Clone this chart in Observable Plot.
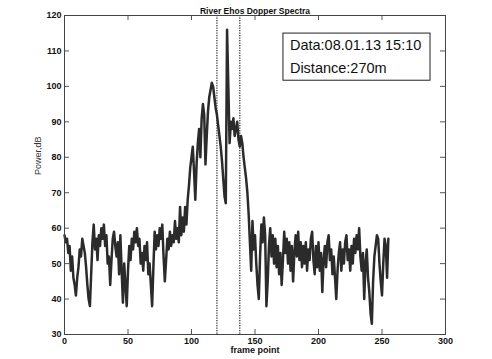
<!DOCTYPE html>
<html><head><meta charset="utf-8">
<script src="https://cdn.jsdelivr.net/npm/d3@7"></script>
<script src="https://cdn.jsdelivr.net/npm/@observablehq/plot@0.6"></script>
<style>body{margin:0;background:#fff} svg{display:block}</style>
</head><body><div id="chart"></div>
<script>
const power = [
58,56,57,53,55,48,52,46,44,41,
46,49,54,52,57,55,53,49,44,40,
38,47,56,61,54,57,51,58,55,60,
57,61,55,58,50,52,44,51,57,59,
55,52,56,47,58,48,39,50,44,38,
48,55,51,57,54,59,56,60,55,57,
50,53,48,55,51,56,47,50,44,38,
49,59,54,58,55,60,57,61,52,45,
51,57,54,59,55,58,56,62,57,60,
56,66,58,63,59,66,61,68,72,77,
80,83,76,68,78,84,88,80,91,95,
92,78,86,93,97,99,101,100,97,94,
92,89,86,83,79,74,69,67,116,100,
84,90,88,91,86,88,90,85,83,86,
84,80,77,74,70,64,56,48,62,54,
58,50,44,40,52,61,56,63,58,38,
45,55,60,52,58,50,57,49,55,47,
53,44,51,59,53,57,50,56,48,55,
45,53,58,52,59,51,56,49,55,50,
56,48,54,51,57,59,51,47,55,49,
56,48,53,42,51,55,49,56,58,51,
54,47,52,46,40,48,53,56,48,54,
50,56,58,51,54,48,55,50,57,53,
58,54,60,52,48,53,40,50,54,46,
42,36,33,45,52,55,58,57,50,45,
41,50,57,55,46,57
];
const frames = power.map((_, i) => i);
const xTicks = [0, 50, 100, 150, 200, 250, 300];
const yTicks = [30, 40, 50, 60, 70, 80, 90, 100, 110, 120];
const markers = [120, 138];
const title = "River Ehos Dopper Spectra";
const xLabel = "frame point";
const yLabel = "Power,dB";
const noteLines = ["Data:08.01.13 15:10", "Distance:270m"];

const W = 492, H = 359, mL = 64, mR = 47, mT = 15, mB = 25;
const iW = W - mL - mR, iH = H - mT - mB, tk = 5;
const data = frames.map((f, i) => ({f, p: power[i]}));
const ink = "#2b2b2b";

const chart = Plot.plot({
  width: W, height: H,
  marginLeft: mL, marginRight: mR, marginTop: mT, marginBottom: mB,
  style: {fontFamily: "'Liberation Sans', Arial, sans-serif", background: "#fff", color: ink},
  x: {domain: [0, 300]},
  y: {domain: [30, 120]},
  marks: [
    Plot.axisX(xTicks, {tickSize: 0, tickPadding: 3, fontSize: 9, fontWeight: "bold", label: null, fill: "#111"}),
    Plot.axisY(yTicks, {tickSize: 0, tickPadding: 3, fontSize: 9, fontWeight: "bold", label: null, fill: "#111"}),
    Plot.tickX(xTicks, {x: d => d, insetTop: iH - tk, stroke: "#555"}),
    Plot.tickX(xTicks, {x: d => d, insetBottom: iH - tk, stroke: "#555"}),
    Plot.tickY(yTicks, {y: d => d, insetRight: iW - tk, stroke: "#555"}),
    Plot.tickY(yTicks, {y: d => d, insetLeft: iW - tk, stroke: "#555"}),
    Plot.ruleX(markers, {x: d => d, stroke: "#444", strokeWidth: 1.4, strokeDasharray: "1.2,1.3"}),
    Plot.line(data, {x: "f", y: "p", stroke: ink, strokeWidth: 2.5, strokeLinejoin: "round"}),
    Plot.rect([0], {x1: 172.4, x2: 288.2, y1: 101.6, y2: 114.9, fill: "#fff", stroke: "#222", strokeWidth: 1}),
    Plot.text(noteLines, {x: 177.5, y: (d, i) => i === 0 ? 111.6 : 105.2, text: d => d, textAnchor: "start", fontSize: 14.5, fill: "#111"}),
    Plot.frame({stroke: "#444"}),
    Plot.text([title], {frameAnchor: "top", dy: -8, fontSize: 8.5, fontWeight: "bold", fill: "#111"}),
    Plot.text([xLabel], {frameAnchor: "bottom", dy: 18, fontSize: 9, fontWeight: "bold", fill: "#111"}),
    Plot.text([yLabel], {frameAnchor: "left", dx: -26, rotate: -90, fontSize: 9, fill: "#333"})
  ]
});
document.getElementById("chart").appendChild(chart);
</script>
</body></html>
